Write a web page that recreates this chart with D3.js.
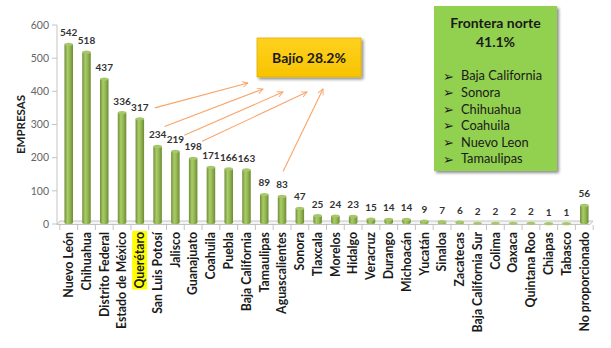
<!DOCTYPE html>
<html>
<head>
<meta charset="utf-8">
<script src="https://cdnjs.cloudflare.com/ajax/libs/d3/7.8.5/d3.min.js"></script>
<style>
  html, body { margin: 0; padding: 0; background: #fff; }
  svg { display: block; font-family: Lato, "Open Sans", sans-serif; }
</style>
</head>
<body>
<svg id="chart" width="611" height="348"></svg>
<script>
// Empresas por estado
const categories = ["Nuevo León", "Chihuahua", "Distrito Federal", "Estado de México", "Querétaro",
  "San Luis Potosí", "Jalisco", "Guanajuato", "Coahuila", "Puebla", "Baja California", "Tamaulipas",
  "Aguascalientes", "Sonora", "Tlaxcala", "Morelos", "Hidalgo", "Veracruz", "Durango", "Michoacán",
  "Yucatán", "Sinaloa", "Zacatecas", "Baja California Sur", "Colima", "Oaxaca", "Quintana Roo",
  "Chiapas", "Tabasco", "No proporcionado"];
const values = [542, 518, 437, 336, 317, 234, 219, 198, 171, 166, 163, 89, 83, 47, 25, 24, 23, 15, 14,
  14, 9, 7, 6, 2, 2, 2, 2, 1, 1, 56];
const yTicks = [0, 100, 200, 300, 400, 500, 600];
const highlighted = ["Querétaro"];

// Bajío states pointing to the callout
const bajioStates = ["Querétaro", "San Luis Potosí", "Jalisco", "Guanajuato", "Aguascalientes"];
const bajioLabel = "Bajío 28.2%";

const fronteraTitle = ["Frontera norte", "41.1%"];
const fronteraStates = ["Baja California", "Sonora", "Chihuahua", "Coahuila", "Nuevo Leon", "Tamaulipas"];

const svg = d3.select("#chart");
const defs = svg.append("defs");

const x = d3.scaleBand().domain(categories).range([60, 593]).paddingInner(0.52).paddingOuter(0.25);
const y = d3.scaleLinear().domain([0, 600]).range([224, 25]);

// cylinder shading
const cyl = defs.append("linearGradient").attr("id", "cyl").attr("x1", 0).attr("x2", 1).attr("y1", 0).attr("y2", 0);
cyl.append("stop").attr("offset", "0%").attr("stop-color", "#6f8f35");
cyl.append("stop").attr("offset", "35%").attr("stop-color", "#a9cb6a");
cyl.append("stop").attr("offset", "60%").attr("stop-color", "#98bb55");
cyl.append("stop").attr("offset", "100%").attr("stop-color", "#6c8c33");

const gold = defs.append("linearGradient").attr("id", "gold").attr("x1", 0).attr("x2", 0).attr("y1", 0).attr("y2", 1);
gold.append("stop").attr("offset", "0%").attr("stop-color", "#ffd21f");
gold.append("stop").attr("offset", "100%").attr("stop-color", "#f7c300");

const shadow = defs.append("filter").attr("id", "shadow").attr("x", "-10%").attr("y", "-10%").attr("width", "130%").attr("height", "130%");
shadow.append("feGaussianBlur").attr("in", "SourceAlpha").attr("stdDeviation", 1.6);
shadow.append("feOffset").attr("dx", 2).attr("dy", 2).attr("result", "ob");
shadow.append("feComponentTransfer").append("feFuncA").attr("type", "linear").attr("slope", 0.45);
const merge = shadow.append("feMerge");
merge.append("feMergeNode");
merge.append("feMergeNode").attr("in", "SourceGraphic");

const arrowHead = defs.append("marker").attr("id", "head").attr("viewBox", "0 0 10 10")
  .attr("refX", 9).attr("refY", 5).attr("markerWidth", 7).attr("markerHeight", 7)
  .attr("markerUnits", "userSpaceOnUse").attr("orient", "auto");
arrowHead.append("path").attr("d", "M1,1 L9,5 L1,9").attr("fill", "none").attr("stroke", "#f9a468").attr("stroke-width", 1.3);

// axis + 3D floor
const x0 = 57, x1 = 593;
const base = y(0);
svg.append("path")
  .attr("d", `M${x0},${base + 0.5} L${x0 + 3},${base - 3} L${x1},${base - 3} L${x1 - 3},${base + 0.5} Z`)
  .attr("fill", "#f4f4f4").attr("stroke", "#c4c4c4").attr("stroke-width", 1);
svg.append("line").attr("x1", x0).attr("x2", x0).attr("y1", y(600)).attr("y2", base + 0.5)
  .attr("stroke", "#c4c4c4");

const yAxis = svg.append("g");
yAxis.selectAll("line").data(yTicks).join("line")
  .attr("x1", x0 - 5).attr("x2", x0).attr("y1", d => y(d)).attr("y2", d => y(d))
  .attr("stroke", "#c4c4c4");
yAxis.selectAll("text").data(yTicks).join("text")
  .attr("x", x0 - 8).attr("y", d => y(d)).attr("dy", "0.35em")
  .attr("text-anchor", "end").attr("font-size", 10.5).attr("fill", "#666")
  .text(d => d);

svg.append("text")
  .attr("transform", `translate(25,${(y(0) + y(600)) / 2}) rotate(-90)`)
  .attr("text-anchor", "middle").attr("font-size", 11.5).attr("font-weight", "bold").attr("fill", "#222")
  .text("EMPRESAS");

// category ticks below floor
const step = x.step();
const gap = (step - x.bandwidth()) / 2;
const bounds = categories.map(c => x(c) - gap).concat([x(categories[categories.length - 1]) + x.bandwidth() + gap]);
svg.append("g").selectAll("line").data(bounds).join("line")
  .attr("x1", d => d).attr("x2", d => d).attr("y1", base + 1).attr("y2", base + 6)
  .attr("stroke", "#c4c4c4");

// bars as cylinders
const bw = x.bandwidth();
const barG = svg.append("g");
categories.forEach((c, i) => {
  const v = values[i];
  const top = y(v);
  const bottom = base - 1.5;
  const cx = x(c) + bw / 2;
  const ry = 1.6;
  barG.append("path")
    .attr("d", `M${cx - bw / 2},${top} L${cx - bw / 2},${bottom} A${bw / 2},${ry} 0 0 0 ${cx + bw / 2},${bottom} L${cx + bw / 2},${top} Z`)
    .attr("fill", "url(#cyl)");
  barG.append("ellipse").attr("cx", cx).attr("cy", top).attr("rx", bw / 2).attr("ry", ry)
    .attr("fill", "#a6c86a");
});

// value labels
svg.append("g").selectAll("text").data(categories).join("text")
  .attr("x", c => x(c) + bw / 2).attr("y", (c, i) => y(values[i]) - 8)
  .attr("text-anchor", "middle").attr("font-size", 10).attr("font-weight", "bold").attr("fill", "#333")
  .text((c, i) => values[i]);

// category labels
const catG = svg.append("g");
categories.forEach(c => {
  const g = catG.append("g").attr("transform", `translate(${x(c) + bw / 2},${base + 8}) rotate(-90)`);
  const t = g.append("text").attr("x", 0).attr("y", 0).attr("dy", "0.35em")
    .attr("text-anchor", "end").attr("font-size", 12.3).attr("font-weight", "bold").attr("fill", "#1a1a1a")
    .text(c);
  if (highlighted.includes(c)) {
    const b = t.node().getBBox();
    g.insert("rect", "text").attr("x", b.x - 1).attr("y", b.y).attr("width", b.width + 2).attr("height", b.height)
      .attr("fill", "#ffff00");
  }
});

// Bajío callout
const bx = 257, by = 38, bwid = 104, bh = 39;
svg.append("rect").attr("x", bx).attr("y", by).attr("width", bwid).attr("height", bh)
  .attr("fill", "url(#gold)").attr("stroke", "#e0b000").attr("stroke-width", 0.8).attr("filter", "url(#shadow)");
svg.append("text").attr("x", bx + bwid / 2).attr("y", by + bh / 2).attr("dy", "0.36em")
  .attr("text-anchor", "middle").attr("font-size", 14).attr("font-weight", "bold").attr("fill", "#1a1a1a")
  .text(bajioLabel);

// arrows from Bajío states toward the callout
const arrowStart = [[15, -11], [7, -20], [9, -16], [9, -17], [1, -25]];
const arrowEnd = [[248, 83], [263, 89], [283, 92], [307, 92], [323, 89]];
svg.append("g").selectAll("line").data(bajioStates).join("line")
  .attr("x1", (c, i) => x(c) + bw / 2 + arrowStart[i][0])
  .attr("y1", (c, i) => y(values[categories.indexOf(c)]) + arrowStart[i][1])
  .attr("x2", (c, i) => arrowEnd[i][0]).attr("y2", (c, i) => arrowEnd[i][1])
  .attr("stroke", "#f9a468").attr("stroke-width", 1.1).attr("marker-end", "url(#head)");

// Frontera norte box
const fx = 434, fy = 6, fw = 123, fh = 165;
svg.append("rect").attr("x", fx).attr("y", fy).attr("width", fw).attr("height", fh)
  .attr("fill", "#92d050").attr("filter", "url(#shadow)");
fronteraTitle.forEach((t, i) => {
  svg.append("text").attr("x", fx + fw / 2).attr("y", fy + 22 + i * 19)
    .attr("text-anchor", "middle").attr("font-size", 14).attr("font-weight", "bold").attr("fill", "#1a1a1a")
    .text(t);
});
fronteraStates.forEach((s, i) => {
  const yy = fy + 70 + i * 16.6;
  svg.append("text").attr("x", fx + 9).attr("y", yy).attr("dy", "0.36em")
    .attr("font-family", "DejaVu Sans").attr("font-size", 13).attr("fill", "#1a1a1a").text("➢");
  svg.append("text").attr("x", fx + 27).attr("y", yy).attr("dy", "0.35em")
    .attr("font-size", 12.8).attr("fill", "#1a1a1a").text(s);
});
</script>
</body>
</html>
